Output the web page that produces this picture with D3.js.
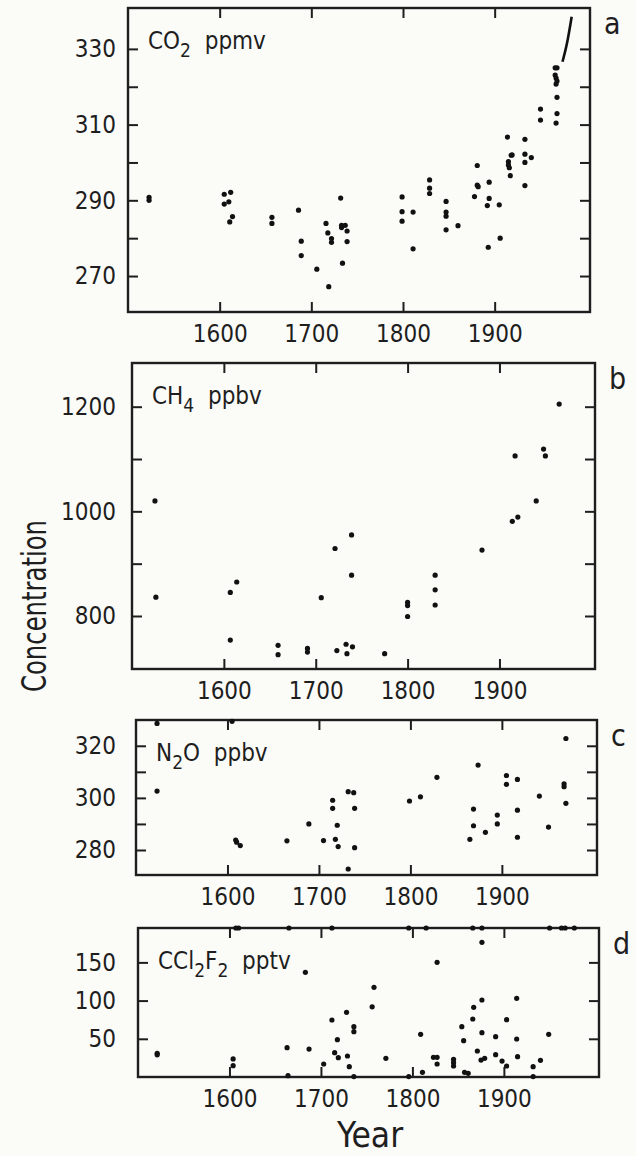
<!DOCTYPE html>
<html>
<head>
<meta charset="utf-8">
<script src="https://cdn.jsdelivr.net/npm/d3@7"></script>
<style>
  html, body { margin: 0; padding: 0; background: #fbfbf8; }
  svg text { font-family: "Liberation Sans Narrow", "DejaVu Sans Condensed", sans-serif; fill: #1e1e1e; white-space: pre; }
  .tick text { font-size: 24px; }
  .tick line { stroke: #1e1e1e; stroke-width: 2; }
</style>
</head>
<body>
<svg id="chart" width="636" height="1156"></svg>
<script>
// x axis, shared by all four panels
var yearTicks = [1600, 1700, 1800, 1900];
var yearDomain = [1500, 2004];

// a: CO2 (ppmv)
var co2Years = [1523, 1523, 1605, 1612, 1605, 1610, 1614, 1611, 1657, 1657, 1686, 1689, 1689, 1706, 1719,
  1716, 1718, 1722, 1722, 1732, 1733, 1733, 1737, 1739, 1739, 1734, 1799, 1799, 1799, 1811, 1811,
  1829, 1829, 1829, 1847, 1847, 1847, 1847, 1860, 1881, 1881, 1882, 1878, 1894, 1894, 1892, 1905,
  1893, 1906, 1914, 1918, 1919, 1915, 1915, 1916, 1917, 1933, 1933, 1933, 1940, 1933, 1950, 1950,
  1966, 1968, 1966, 1967, 1968, 1967, 1968, 1968, 1967];
var co2Values = [290.8, 290.0, 291.6, 292.1, 289.0, 289.6, 285.7, 284.3, 285.5, 283.9, 287.4, 279.2, 275.4, 271.8, 267.2,
  283.9, 281.4, 279.9, 278.9, 290.6, 283.4, 282.8, 283.4, 281.9, 279.1, 273.4, 290.9, 287.0, 284.5, 286.9, 277.2,
  295.4, 293.2, 291.8, 289.7, 286.9, 285.8, 282.2, 283.3, 299.2, 294.0, 293.6, 291.0, 294.8, 290.5, 288.6, 288.8,
  277.6, 280.0, 306.7, 301.9, 302.0, 300.2, 299.3, 298.6, 296.5, 306.1, 302.2, 300.0, 301.3, 293.9, 314.1, 311.2,
  325.0, 325.0, 323.1, 322.3, 321.5, 320.7, 317.2, 312.9, 310.4];
var co2LineYears = [1974, 1979, 1984];
var co2LineValues = [326.6, 331.6, 338.5];
var co2Ticks = [270, 280, 290, 300, 310, 320, 330];
var co2TickLabels = [270, 290, 310, 330];

// b: CH4 (ppbv)
var ch4Years = [1525, 1526, 1607, 1614, 1607, 1659, 1659, 1691, 1691, 1706, 1721, 1723, 1733, 1734, 1740, 1739,
  1739, 1775, 1800, 1800, 1800, 1830, 1830, 1830, 1881, 1914, 1920, 1917, 1940, 1948, 1950, 1965];
var ch4Values = [1020, 836, 845, 865, 754, 744, 726, 738, 731, 835, 929, 734, 746, 728, 741, 955,
  878, 728, 826, 820, 799, 878, 850, 821, 926, 981, 989, 1106, 1020, 1119, 1106, 1205];
var ch4Ticks = [800, 900, 1000, 1100, 1200];
var ch4TickLabels = [800, 1000, 1200];

// c: N2O (ppbv)
var n2oYears = [1523, 1605, 1523, 1609, 1610, 1614, 1665, 1689, 1705, 1715, 1715, 1720, 1718, 1721, 1732, 1738,
  1739, 1739, 1732, 1799, 1811, 1829, 1865, 1869, 1869, 1874, 1882, 1895, 1895, 1905, 1905, 1917, 1917,
  1917, 1941, 1951, 1970, 1968, 1968, 1970];
var n2oValues = [328.6, 329.4, 302.6, 283.8, 283.0, 281.7, 283.5, 290.0, 283.6, 299.1, 296.0, 289.5, 284.1, 281.3, 302.4, 302.0,
  296.0, 280.9, 272.7, 298.8, 300.4, 307.9, 284.1, 295.7, 289.3, 312.6, 286.8, 293.4, 290.0, 308.6, 305.2, 307.1, 295.3,
  284.9, 300.7, 288.8, 322.8, 305.4, 304.3, 297.9];
var n2oTicks = [280, 290, 300, 310, 320];
var n2oTickLabels = [280, 300, 320];

// d: CCl2F2 (pptv); 195 = off scale, drawn on the top frame
var cfcYears = [1521, 1521, 1604, 1604, 1607, 1610, 1665, 1664, 1663, 1683, 1687, 1703, 1712, 1712, 1715, 1718,
  1719, 1728, 1729, 1731, 1736, 1736, 1736, 1796, 1796, 1815, 1866, 1876, 1950, 1963, 1967, 1977, 1876,
  1827, 1758, 1756, 1771, 1809, 1811, 1823, 1827, 1827, 1845, 1845, 1845, 1857, 1861, 1854, 1856, 1867,
  1866, 1871, 1876, 1876, 1875, 1879, 1891, 1891, 1898, 1903, 1903, 1914, 1914, 1915, 1932, 1932, 1940, 1949];
var cfcValues = [31, 29, 23.6, 14.8, 195, 195, 195, 1.7, 38.4, 137, 36.6, 17, 195, 74.6, 31.8, 48.8,
  25.3, 84.7, 27.5, 13.5, 65.8, 59.3, 0.5, 195, 0.5, 195, 195, 195, 195, 195, 195, 195, 176.2,
  150.1, 117.4, 91.9, 24.4, 55.9, 6.1, 25.7, 25.7, 17, 23.1, 18.8, 14.4, 6.1, 4.8, 65.8, 47.5, 91.2,
  75.9, 34, 100.8, 58, 22.2, 24.4, 52.8, 29.2, 20.9, 14.4, 75, 103, 49.7, 26.6, 13.5, 0.5, 21.8, 55.9];
var cfcTicks = [50, 100, 150];
var cfcTickLabels = [50, 100, 150];

var co2Label = [{t: "CO"}, {t: "2", sub: true}, {t: "  ppmv"}];
var ch4Label = [{t: "CH"}, {t: "4", sub: true}, {t: "  ppbv"}];
var n2oLabel = [{t: "N"}, {t: "2", sub: true}, {t: "O  ppbv"}];
var cfcLabel = [{t: "CCl"}, {t: "2", sub: true}, {t: "F"}, {t: "2", sub: true}, {t: "  pptv"}];

// layout: frame edges in px
var panels = [
  {years: co2Years, values: co2Values, ticks: co2Ticks, labels: co2TickLabels, title: co2Label, letter: "a",
   left: 128, right: 590, top: 8, bottom: 312, yDomain: [260.5, 340.8]},
  {years: ch4Years, values: ch4Values, ticks: ch4Ticks, labels: ch4TickLabels, title: ch4Label, letter: "b",
   left: 132, right: 595, top: 363, bottom: 669, yDomain: [698.7, 1283.5]},
  {years: n2oYears, values: n2oValues, ticks: n2oTicks, labels: n2oTickLabels, title: n2oLabel, letter: "c",
   left: 136, right: 597, top: 720, bottom: 875, yDomain: [270.4, 329.9]},
  {years: cfcYears, values: cfcValues, ticks: cfcTicks, labels: cfcTickLabels, title: cfcLabel, letter: "d",
   left: 138, right: 599, top: 928, bottom: 1077, yDomain: [0, 195]}
];

var ink = "#1e1e1e";
var svg = d3.select("#chart");

panels.forEach(function(p, i) {
  var x = d3.scaleLinear().domain(yearDomain).range([p.left, p.right]);
  var y = d3.scaleLinear().domain(p.yDomain).range([p.bottom, p.top]);
  var g = svg.append("g").attr("class", "panel");

  // inward ticks on all four sides
  g.append("g")
    .attr("transform", "translate(" + p.left + ",0)")
    .call(d3.axisLeft(y).tickValues(p.ticks).tickSize(-10).tickPadding(p.left - 116)
      .tickFormat(function(d) { return p.labels.indexOf(d) >= 0 ? d : ""; }));
  g.append("g")
    .attr("transform", "translate(" + p.right + ",0)")
    .call(d3.axisRight(y).tickValues(p.ticks).tickSize(-10).tickFormat(""));
  g.append("g")
    .attr("transform", "translate(0," + p.bottom + ")")
    .call(d3.axisBottom(x).tickValues(yearTicks).tickSize(-10).tickPadding(13).tickFormat(d3.format("d")));
  g.append("g")
    .attr("transform", "translate(0," + p.top + ")")
    .call(d3.axisTop(x).tickValues(yearTicks).tickSize(-10).tickFormat(""));
  g.selectAll(".domain").remove();

  g.append("rect")
    .attr("x", p.left).attr("y", p.top)
    .attr("width", p.right - p.left).attr("height", p.bottom - p.top)
    .attr("fill", "none").attr("stroke", ink).attr("stroke-width", 2.4);

  g.selectAll("circle.pt")
    .data(d3.zip(p.years, p.values))
    .enter().append("circle")
    .attr("class", "pt")
    .attr("cx", function(d) { return x(d[0]); })
    .attr("cy", function(d) { return y(d[1]); })
    .attr("r", 2.6)
    .attr("fill", "#111");

  if (i === 0) {
    var line = d3.line().curve(d3.curveMonotoneX)
      .x(function(d) { return x(d[0]); })
      .y(function(d) { return y(d[1]); });
    g.append("path")
      .datum(d3.zip(co2LineYears, co2LineValues))
      .attr("d", line)
      .attr("fill", "none").attr("stroke", "#111").attr("stroke-width", 2.6);
  }

  // gas name with subscripts
  var title = g.append("text")
    .attr("x", p.left + 20).attr("y", p.top + 41)
    .style("font-size", "24px");
  p.title.forEach(function(part, k) {
    var ts = title.append("tspan").text(part.t);
    if (part.sub) ts.attr("dy", 8).style("font-size", "19px");
    else if (k > 0 && p.title[k - 1].sub) ts.attr("dy", -8);
  });

  g.append("text")
    .attr("x", p.right + 14).attr("y", p.top + 26)
    .style("font-size", "30px")
    .text(p.letter);
});

svg.append("text")
  .attr("x", 370).attr("y", 1147)
  .attr("text-anchor", "middle")
  .style("font-size", "35px")
  .text("Year");

svg.append("text")
  .attr("transform", "translate(46,606) rotate(-90)")
  .attr("text-anchor", "middle")
  .attr("textLength", 172)
  .attr("lengthAdjust", "spacingAndGlyphs")
  .style("font-size", "33px")
  .text("Concentration");
</script>
</body>
</html>
